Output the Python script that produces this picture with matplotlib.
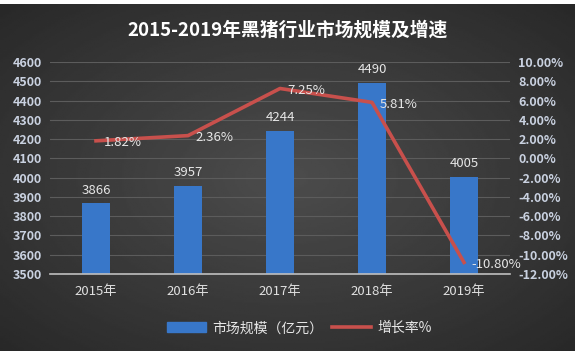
import numpy as np
import matplotlib.pyplot as plt

plt.rcParams['font.family'] = ['Noto Sans CJK SC', 'DejaVu Sans']

years = ['2015年', '2016年', '2017年', '2018年', '2019年']
scale = [3866, 3957, 4244, 4490, 4005]
growth = [1.82, 2.36, 7.25, 5.81, -10.80]

fig = plt.figure(figsize=(5.76, 3.51), dpi=100)

# dark radial background, leaving a thin white strip on top and right
bg = fig.add_axes([0, 0, 575 / 576, 347 / 351], zorder=-10)
yy, xx = np.mgrid[-1:1:200j, -1:1:300j]
r = np.sqrt(xx ** 2 + yy ** 2)
bg.imshow(0.30 - 0.10 * r, cmap='gray', vmin=0, vmax=1, aspect='auto',
          extent=[0, 1, 0, 1])
bg.axis('off')

ax = fig.add_axes([50 / 576, 1 - 274 / 351, 460 / 576, 212 / 351])
ax.patch.set_alpha(0)
ax2 = ax.twinx()

x = np.arange(len(years))
ax.bar(x, scale, width=0.3, color='#3877c9', zorder=2)
ax.set_ylim(3500, 4600)
ax.set_yticks(range(3500, 4601, 100))
ax.set_xlim(-0.5, 4.5)
ax.set_xticks(x, years)
ax.grid(axis='y', color='#5c5c5c', linewidth=0.8, zorder=0)
ax.set_axisbelow(True)

for xi, v in zip(x, scale):
    ax.text(xi, v + 35, str(v), ha='center', va='bottom', color='#e6e6e6',
            fontsize=9.5)

ax2.plot(x, growth, color='#c8504c', linewidth=2.6, zorder=3)
ax2.set_ylim(-12, 10)
ax2.set_yticks(range(-12, 11, 2))
ax2.set_yticklabels([f'{v:.2f}%' for v in range(-12, 11, 2)])
for xi, g in zip(x, growth):
    ax2.text(xi + 0.08, g - 0.2, f'{g:.2f}%', ha='left', va='center',
             color='#e6e6e6', fontsize=9.5)

for a in (ax, ax2):
    for s in a.spines.values():
        s.set_visible(False)
    a.tick_params(length=0, colors='#c9d1e0', labelsize=9)
ax.spines['bottom'].set_visible(True)
ax.spines['bottom'].set_color('#bfbfbf')
ax.spines['bottom'].set_linewidth(1.2)
for lab in ax.get_yticklabels() + ax2.get_yticklabels():
    lab.set_fontweight('bold')
ax.tick_params(axis='x', colors='#e0e0e0', labelsize=9.5, pad=8)
ax.tick_params(axis='y', pad=6)
ax2.tick_params(axis='y', pad=6)

fig.text(0.5, 0.913, '2015-2019年黑猪行业市场规模及增速', ha='center', va='center',
         color='white', fontsize=13.5, fontweight='bold')

handles = [plt.Rectangle((0, 0), 1, 1, color='#3877c9'),
           plt.Line2D([0], [0], color='#c8504c', linewidth=2.6)]
fig.legend(handles, ['市场规模（亿元）', '增长率%'], loc='center',
           bbox_to_anchor=(0.52, 0.065), ncol=2, frameon=False,
           labelcolor='#e6e6e6', fontsize=10, handlelength=2.8,
           columnspacing=0.6, handletextpad=0.5)

fig.savefig('out.png', dpi=100, facecolor='white')
